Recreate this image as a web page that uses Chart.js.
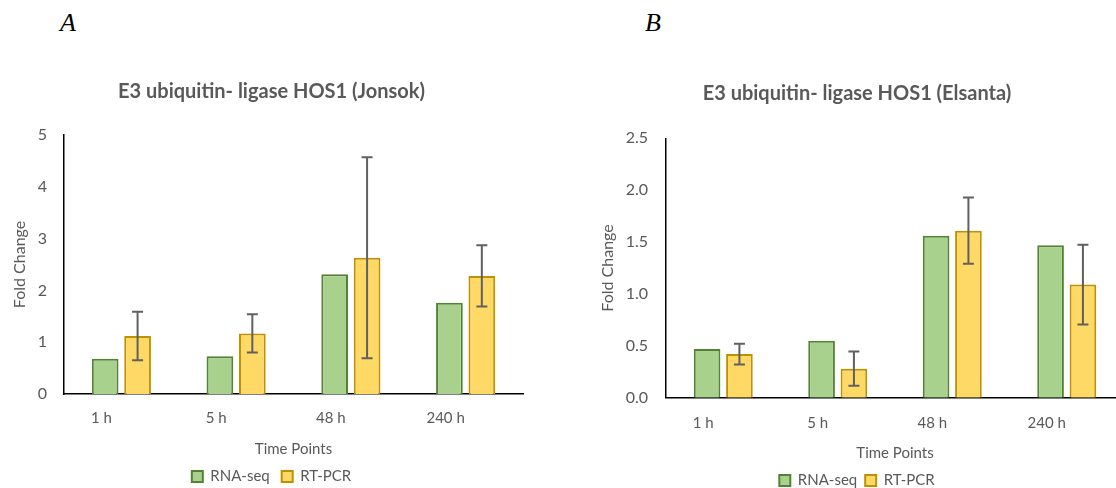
<!DOCTYPE html>
<html>
<head>
<meta charset="utf-8">
<script src="https://cdn.jsdelivr.net/npm/chart.js@4/dist/chart.umd.min.js"></script>
<style>
  html, body { margin: 0; padding: 0; background: #fff; overflow: hidden; }
  body { width: 1116px; height: 488px; position: relative; }
  .panel { position: absolute; top: 0; }
  .tag { position: absolute; font-family: "Liberation Serif", serif; font-style: italic; font-size: 26px; line-height: 26px; color: #000; }
</style>
</head>
<body>
<div class="tag" style="left:60px; top:10px;">A</div>
<div class="tag" style="left:645px; top:10px;">B</div>
<div class="panel" style="left:0; width:560px; height:494px;"><canvas id="chartA"></canvas></div>
<div class="panel" style="left:558px; width:580px; height:498px;"><canvas id="chartB"></canvas></div>
<script>
var timePoints = ["1 h", "5 h", "48 h", "240 h"];

// Jonsok
var rnaSeqA = [0.68, 0.73, 2.31, 1.76];
var rtPcrA = [1.12, 1.17, 2.63, 2.28];
var rtPcrErrA = [0.47, 0.37, 1.94, 0.59];
var yTicksA = [0, 1, 2, 3, 4, 5];

// Elsanta
var rnaSeqB = [0.47, 0.55, 1.56, 1.47];
var rtPcrB = [0.42, 0.28, 1.61, 1.09];
var rtPcrErrB = [0.10, 0.165, 0.32, 0.385];
var yTicksB = [0, 0.5, 1.0, 1.5, 2.0, 2.5];

var textColor = "#595959";
var font = "Lato";

// error bars for the RT-PCR series
var errorBars = {
  id: "errorBars",
  afterDatasetsDraw(chart, args, opts) {
    const ctx = chart.ctx;
    const meta = chart.getDatasetMeta(1);
    const y = chart.scales.y;
    ctx.save();
    ctx.strokeStyle = "#606060";
    ctx.lineWidth = 2;
    meta.data.forEach((bar, i) => {
      const v = chart.data.datasets[1].data[i];
      const e = opts.errors[i];
      const top = y.getPixelForValue(v + e);
      const bot = y.getPixelForValue(v - e);
      ctx.beginPath();
      ctx.moveTo(bar.x, top); ctx.lineTo(bar.x, bot);
      ctx.moveTo(bar.x - 5.5, top); ctx.lineTo(bar.x + 5.5, top);
      ctx.moveTo(bar.x - 5.5, bot); ctx.lineTo(bar.x + 5.5, bot);
      ctx.stroke();
    });
    ctx.restore();
  }
};

function makeChart(id, cfg) {
  return new Chart(id, {
    type: "bar",
    data: {
      labels: timePoints,
      datasets: [
        { label: "RNA-seq", data: cfg.rna, backgroundColor: "#A9D18E", borderColor: "#548235", borderWidth: 2 },
        { label: "RT-PCR", data: cfg.pcr, backgroundColor: "#FFD966", borderColor: "#BF9000", borderWidth: 2 }
      ]
    },
    options: {
      responsive: true,
      maintainAspectRatio: false,
      animation: false,
      categoryPercentage: 0.565,
      barPercentage: 0.824,
      layout: { padding: cfg.pad },
      plugins: {
        title: {
          display: true,
          text: cfg.title,
          color: textColor,
          font: { family: font, size: 20, weight: "bold" },
          padding: cfg.titlePad
        },
        legend: {
          position: "bottom",
          labels: {
            color: textColor,
            font: { family: font, size: 15 },
            boxWidth: 11,
            boxHeight: 11,
            padding: cfg.legendPad
          }
        },
        tooltip: { enabled: false },
        errorBars: { errors: cfg.err }
      },
      scales: {
        x: {
          grid: { display: false, drawTicks: false },
          border: { color: "#000", width: 1.5 },
          ticks: { color: textColor, font: { family: font, size: 15 }, padding: cfg.xTickPad, labelOffset: -20 },
          title: {
            display: true,
            text: "Time Points",
            color: textColor,
            font: { family: font, size: 15 },
            padding: cfg.xTitlePad
          }
        },
        y: {
          min: 0,
          max: cfg.ticks[cfg.ticks.length - 1],
          grid: { display: false, drawTicks: false },
          border: { color: "#000", width: 1.5 },
          afterBuildTicks: (s) => { s.ticks = cfg.ticks.map(v => ({ value: v })); },
          afterFit: (s) => { s.width = cfg.yWidth; },
          ticks: {
            color: textColor,
            font: { family: font, size: 16 },
            padding: cfg.yTickPad,
            callback: (v) => v.toFixed(cfg.decimals)
          },
          title: {
            display: true,
            text: "Fold Change",
            color: textColor,
            font: { family: font, size: 16 },
            padding: { top: cfg.yTitlePad, bottom: 0 }
          }
        }
      }
    },
    plugins: [errorBars]
  });
}

makeChart("chartA", {
  title: "E3 ubiquitin- ligase HOS1 (Jonsok)",
  rna: rnaSeqA, pcr: rtPcrA, err: rtPcrErrA, ticks: yTicksA, decimals: 0,
  pad: { left: 20, right: 37, top: 0, bottom: 0 },
  titlePad: { top: 80, bottom: 31 },
  legendPad: 12,
  xTickPad: 15,
  xTitlePad: { top: -2, bottom: -1 },
  yWidth: 44, yTickPad: 17, yTitlePad: -9.6
});

makeChart("chartB", {
  title: "E3 ubiquitin- ligase HOS1 (Elsanta)",
  rna: rnaSeqB, pcr: rtPcrB, err: rtPcrErrB, ticks: yTicksB, decimals: 1,
  pad: { left: 32, right: 14, top: 0, bottom: 0 },
  titlePad: { top: 82, bottom: 32.3 },
  legendPad: 8,
  xTickPad: 16,
  xTitlePad: { top: -3.2, bottom: 2.5 },
  yWidth: 76, yTickPad: 18, yTitlePad: 7.9
});
</script>
</body>
</html>
